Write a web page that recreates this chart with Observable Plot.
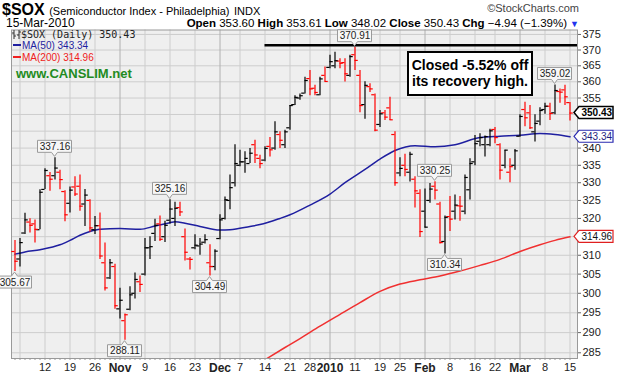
<!DOCTYPE html>
<html><head><meta charset="utf-8">
<script src="https://cdn.jsdelivr.net/npm/d3@7"></script>
<script src="https://cdn.jsdelivr.net/npm/@observablehq/plot@0.6"></script>
<style>
body{margin:0;background:#fff;}
#wrap{position:relative;width:621px;height:377px;overflow:hidden;font-family:"Liberation Sans",Arial,sans-serif;color:#000;}
.abs{position:absolute;white-space:nowrap;}
#chart{position:absolute;left:0;top:28px;}
</style></head><body>
<div id="wrap">
  <div class="abs" style="left:2px;top:1.5px;line-height:16px;"><span style="font-size:16px;font-weight:bold">$SOX</span> <span style="font-size:11px">(Semiconductor Index - Philadelphia)</span> <span style="font-size:11px">INDX</span></div>
  <div class="abs" style="right:42px;top:2px;font-size:11px;color:#444;line-height:13px;">&#169;StockCharts.com</div>
  <div class="abs" style="left:6px;top:17px;font-size:12px;line-height:12px;">15-Mar-2010</div>
  <div class="abs" id="ohlc" style="right:42px;top:17px;font-size:11.5px;line-height:12px;"></div>
  <div id="chart"></div>
  <div class="abs" style="left:12px;top:28.5px;font-family:'DejaVu Sans Mono',monospace;font-size:10px;line-height:11px;color:#222;"><svg width="9" height="9" style="vertical-align:-1px"><path d="M2 0V9M0 3H2M2 6H4M7 0V9M5 5H7M7 2H9" stroke="#333" stroke-width="1" fill="none"/></svg>$SOX (Daily) <span id="lgPrice"></span></div>
  <div class="abs" style="left:13px;top:40px;font-size:10px;line-height:11px;color:#1f1fa0;"><span style="display:inline-block;width:8px;height:2px;background:#1f1fa0;vertical-align:3px;margin-right:1px"></span>MA(50) <span id="lgMa50"></span></div>
  <div class="abs" style="left:13px;top:52px;font-size:10px;line-height:11px;color:#f02020;"><span style="display:inline-block;width:8px;height:2px;background:#f02020;vertical-align:3px;margin-right:1px"></span>MA(200) <span id="lgMa200"></span></div>
  <div class="abs" style="left:16px;top:66px;font-size:13px;line-height:15px;font-weight:bold;color:#228b22;">www.CANSLIM.net</div>
  <div class="abs" style="left:407px;top:50.5px;width:122px;border:2px solid #000;background:#fff;font-size:14px;font-weight:bold;line-height:16px;text-align:center;padding-top:4px;box-sizing:content-box;height:37px;">Closed -5.52% off<br>its recovery high.</div>
</div>
<script>
// ---------- data ----------
const dates = [
"2009-10-02","2009-10-05","2009-10-06","2009-10-07","2009-10-08","2009-10-09",
"2009-10-12","2009-10-13","2009-10-14","2009-10-15","2009-10-16",
"2009-10-19","2009-10-20","2009-10-21","2009-10-22","2009-10-23",
"2009-10-26","2009-10-27","2009-10-28","2009-10-29","2009-10-30",
"2009-11-02","2009-11-03","2009-11-04","2009-11-05","2009-11-06",
"2009-11-09","2009-11-10","2009-11-11","2009-11-12","2009-11-13",
"2009-11-16","2009-11-17","2009-11-18","2009-11-19","2009-11-20",
"2009-11-23","2009-11-24","2009-11-25","2009-11-27",
"2009-11-30","2009-12-01","2009-12-02","2009-12-03","2009-12-04",
"2009-12-07","2009-12-08","2009-12-09","2009-12-10","2009-12-11",
"2009-12-14","2009-12-15","2009-12-16","2009-12-17","2009-12-18",
"2009-12-21","2009-12-22","2009-12-23","2009-12-24",
"2009-12-28","2009-12-29","2009-12-30","2009-12-31",
"2010-01-04","2010-01-05","2010-01-06","2010-01-07","2010-01-08",
"2010-01-11","2010-01-12","2010-01-13","2010-01-14","2010-01-15",
"2010-01-19","2010-01-20","2010-01-21","2010-01-22",
"2010-01-25","2010-01-26","2010-01-27","2010-01-28","2010-01-29",
"2010-02-01","2010-02-02","2010-02-03","2010-02-04","2010-02-05",
"2010-02-08","2010-02-09","2010-02-10","2010-02-11","2010-02-12",
"2010-02-16","2010-02-17","2010-02-18","2010-02-19",
"2010-02-22","2010-02-23","2010-02-24","2010-02-25","2010-02-26",
"2010-03-01","2010-03-02","2010-03-03","2010-03-04","2010-03-05",
"2010-03-08","2010-03-09","2010-03-10","2010-03-11","2010-03-12",
"2010-03-15"];

const opens = [311.0,309.0,316.0,319.0,318.5,316.9, 328.1,332.0,332.0,333.0,327.5, 324.2,328.8,329.0,324.0,325.0,
316.9,318.0,308.0,304.0,307.0, 296.0,293.0,295.9,300.0,303.0, 305.0,312.0,315.9,318.5,315.0,
319.5,320.0,323.0,315.0,309.0, 312.0,312.5,313.5,308.0, 307.0,314.5,320.0,325.0,330.0,
335.0,336.0,335.5,341.0,337.0, 336.5,340.5,340.0,344.0,341.0, 346.0,353.0,355.0,356.5,
361.0,358.0,356.0,362.0, 364.5,365.0,366.5,366.0,362.0, 368.5,362.0,353.0,358.5,356.0,
347.0,350.5,352.0,344.0, 332.8,335.0,333.0,331.0,327.0, 322.0,325.0,329.0,324.0,313.7,
320.5,322.0,323.5,322.0,328.0, 336.0,342.0,341.0,341.0, 345.5,341.0,335.0,333.0,335.0,
343.5,351.5,350.5,344.8,348.0, 351.5,352.5,350.5,357.0,357.5, 353.60];
const highs = [314.0,314.5,321.4,319.9,319.6,328.0, 334.0,332.9,337.16,333.6,327.7, 328.8,331.7,332.2,328.1,325.2,
320.5,321.5,313.3,308.9,307.6, 301.3,294.7,301.7,305.3,304.5, 314.5,315.0,319.8,320.7,319.2,
325.16,324.5,324.5,317.1,309.4, 315.5,314.5,315.5,312.8, 311.5,321.0,326.0,332.2,341.0,
339.4,338.9,339.9,342.3,337.9, 340.4,343.1,347.8,344.8,345.3, 352.7,355.7,356.2,361.4,
363.5,358.9,361.4,364.6, 368.3,369.3,367.2,367.2,368.3, 370.91,363.5,360.0,359.4,356.2,
351.2,351.2,355.2,344.8, 337.2,338.2,338.8,331.7,328.0, 328.2,329.8,330.25,324.5,320.7,
326.1,326.5,326.1,332.2,336.9, 343.7,344.2,343.6,345.6, 346.1,341.3,339.4,336.9,339.6,
349.9,353.7,352.7,349.9,352.0, 353.4,353.4,359.02,357.8,358.9, 353.61];
const lows = [305.67,306.9,315.6,316.0,313.3,316.9, 328.1,327.6,330.8,328.0,319.1, 321.5,326.1,322.0,317.8,316.2,
315.6,308.9,300.6,303.6,295.9, 293.4,288.11,295.5,298.5,300.2, 304.5,308.9,313.7,313.7,313.4,
318.5,317.8,320.5,308.5,306.1, 311.5,310.0,313.0,304.49, 305.9,314.2,319.6,322.4,328.8,
334.6,332.7,335.5,335.5,334.0, 336.0,337.4,339.4,339.9,339.9, 345.3,352.7,354.3,356.2,
355.7,355.7,355.7,359.9, 364.1,364.1,364.1,359.9,361.4, 363.5,350.5,348.6,356.7,344.8,
346.1,348.2,348.2,329.0, 331.7,331.7,330.2,322.9,314.8, 317.4,324.2,325.1,313.0,310.34,
316.4,319.6,319.2,321.0,325.1, 334.9,340.4,337.4,340.4, 341.3,330.8,334.0,330.0,333.6,
343.2,346.3,345.5,341.8,346.6, 350.1,348.2,349.9,353.4,352.7, 348.02];
const closes = [308.4,313.4,319.6,318.1,317.0,327.3, 333.5,331.0,334.2,330.9,321.0, 327.9,326.8,323.4,326.5,317.4,
318.0,309.8,301.4,308.0,296.8, 298.2,294.5,299.6,303.6,302.3, 312.0,312.3,318.1,314.3,318.1,
322.6,322.8,321.8,310.8,308.9, 312.7,313.0,314.2,307.0, 311.1,319.6,325.2,328.6,335.5,
336.0,337.0,338.5,338.0,335.5, 339.9,339.5,344.8,342.3,344.8, 352.7,355.2,355.7,360.4,
357.8,356.7,360.9,360.1, 366.3,366.6,365.8,362.5,367.9, 366.7,352.7,358.9,357.8,345.3,
350.2,349.2,348.4,330.0, 334.1,333.8,338.2,327.7,316.4, 317.6,328.2,327.9,313.4,320.3,
319.8,323.7,323.4,331.5,335.5, 341.3,343.1,343.4,345.1, 343.1,333.6,339.4,334.6,339.2,
349.4,349.0,346.0,347.3,351.2, 352.5,350.3,357.3,356.8,355.37, 350.43];
const closeBeforeFirst = 311.5; // estimated close of the session before the first bar

const ma50Dates = ["2009-10-02","2009-10-06","2009-10-09","2009-10-15","2009-10-19","2009-10-21","2009-10-23","2009-10-27",
"2009-11-02","2009-11-06","2009-11-11","2009-11-16","2009-11-17","2009-11-19","2009-11-24","2009-12-01","2009-12-03",
"2009-12-09","2009-12-11","2009-12-17","2009-12-21","2009-12-28","2010-01-04","2010-01-07","2010-01-13","2010-01-19",
"2010-01-22","2010-01-28","2010-02-03","2010-02-09","2010-02-17","2010-02-23","2010-03-01","2010-03-05","2010-03-10","2010-03-15"];
const ma50Values = [310.3,310.9,311.5,312.8,314.0,315.4,316.4,317.0,
317.2,317.0,317.9,318.8,319.1,318.7,317.8,316.8,316.9,
317.8,318.3,320.0,321.0,323.7,326.8,330.0,333.8,336.8,
339.3,340.7,340.4,341.0,343.1,343.5,343.8,344.3,344.0,343.34];

const ma200Dates = ["2009-12-14","2009-12-18","2009-12-23","2009-12-30","2010-01-06","2010-01-12","2010-01-19","2010-01-25",
"2010-01-29","2010-02-04","2010-02-10","2010-02-17","2010-02-23","2010-03-01","2010-03-05","2010-03-10","2010-03-15"];
const ma200Values = [283.3,286.3,288.5,291.6,294.6,297.6,300.5,302.4,303.5,304.5,305.8,307.3,308.9,311.0,312.8,314.0,314.96];

const yTicks = [285,290,295,300,305,310,315,320,325,330,335,340,345,350,355,360,365,370,375];
const yTickLabelsHidden = [315,345,350]; // covered by the value tags on the right
const gridWeekDates = ["2009-10-05","2009-10-12","2009-10-19","2009-10-26","2009-11-09","2009-11-16","2009-11-23","2009-12-07",
"2009-12-14","2009-12-21","2009-12-28","2010-01-11","2010-01-19","2010-01-25","2010-02-08","2010-02-16","2010-02-22","2010-03-08","2010-03-15"];
const weekTickDates = ["2009-10-12","2009-10-19","2009-10-26","2009-11-09","2009-11-16","2009-11-23","2009-12-07",
"2009-12-14","2009-12-21","2009-12-28","2010-01-11","2010-01-19","2010-01-25","2010-02-08","2010-02-16","2010-02-22","2010-03-08","2010-03-15"];
const weekTickLabels = ["12","19","26","9","16","23","7","14","21","28","11","19","25","8","16","22","8","15"];
const monthTickDates = ["2009-11-02","2009-12-01","2010-01-04","2010-02-01","2010-03-01"];
const monthTickLabels = ["Nov","Dec","2010","Feb","Mar"];

const highLabelDates = ["2009-10-14","2009-11-16","2010-01-11","2010-02-03","2010-03-10"];
const lowLabelDates = ["2009-10-02","2009-11-03","2009-11-27","2010-02-05"];
const resistanceLevel = 371.5;
const resistanceStart = "2009-12-14";

const quote = {open: 353.60, high: 353.61, low: 348.02, close: 350.43, chg: -4.94, pct: -1.39};

// ---------- build ----------
const f2 = d3.format(".2f");
const idx = new Map(dates.map((d, i) => [d, i]));
const xDomain = [-0.7, 112.5];
const bars = dates.map((d, i) => ({
  i, open: opens[i], high: highs[i], low: lows[i], close: closes[i],
  up: closes[i] >= (i ? closes[i - 1] : closeBeforeFirst)
}));
const barColor = d => d.up ? "#000" : "#f00";
const ma50 = ma50Dates.map((d, k) => ({i: idx.get(d), v: ma50Values[k]}));
const ma200 = ma200Dates.map((d, k) => ({i: idx.get(d), v: ma200Values[k]}));
const weekMap = new Map(weekTickDates.map((d, k) => [idx.get(d), weekTickLabels[k]]));
const monthMap = new Map(monthTickDates.map((d, k) => [idx.get(d), monthTickLabels[k]]));
const gridWeek = gridWeekDates.map(d => idx.get(d));
const highTags = highLabelDates.map(d => ({i: idx.get(d), v: highs[idx.get(d)], label: f2(highs[idx.get(d)])}));
const lowTags = lowLabelDates.map(d => ({i: idx.get(d), v: lows[idx.get(d)], label: f2(lows[idx.get(d)])}));
const lastClose = closes[closes.length - 1];
const lastMa50 = ma50Values[ma50Values.length - 1];
const lastMa200 = ma200Values[ma200Values.length - 1];
const yLabelTicks = yTicks.filter(t => !yTickLabelsHidden.includes(t));

document.getElementById("lgPrice").textContent = f2(lastClose);
document.getElementById("lgMa50").textContent = f2(lastMa50);
document.getElementById("lgMa200").textContent = f2(lastMa200);
document.getElementById("ohlc").innerHTML =
  `<b>Open</b> ${f2(quote.open)} <b>High</b> ${f2(quote.high)} <b>Low</b> ${f2(quote.low)} <b>Close</b> ${f2(quote.close)} <b>Chg</b> ${f2(quote.chg)} (${f2(quote.pct)}%)<span style="color:#2233ee;font-size:9px;margin-left:3px">&#9660;</span>`;

// label boxes drawn behind Plot.text marks, positioned from the mark's own scaled values
const NS = "http://www.w3.org/2000/svg";
function tagPath(kind, x, y, w, h) {
  if (kind === "above") { const b = y - 5, t = b - h; return `M${x - w / 2},${t}H${x + w / 2}V${b}H${x + 3}L${x},${y - 1}L${x - 3},${b}H${x - w / 2}Z`; }
  if (kind === "below") { const t = y + 5, b = t + h; return `M${x - w / 2},${t}H${x - 3}L${x},${y + 1}L${x + 3},${t}H${x + w / 2}V${b}H${x - w / 2}Z`; }
  return `M${x - 3},${y}L${x + 2},${y - h / 2}H${x + 2 + w}V${y + h / 2}H${x + 2}Z`;
}
function tagged(kind, {w = 34, h = 12, fill = "#f7f7f7", stroke = "#9a9a9a", strokeWidth = 1} = {}) {
  return (index, scales, values, dims, ctx, next) => {
    const textG = next(index, scales, values, dims, ctx);
    const wrap = document.createElementNS(NS, "g");
    for (const i of index) {
      const x = values.x ? values.x[i] : dims.width - dims.marginRight;
      const y = values.y[i];
      const p = document.createElementNS(NS, "path");
      p.setAttribute("d", tagPath(kind, x, y, w, h));
      p.setAttribute("fill", fill);
      p.setAttribute("stroke", stroke);
      p.setAttribute("stroke-width", strokeWidth);
      wrap.appendChild(p);
    }
    wrap.appendChild(textG);
    return wrap;
  };
}

const chart = Plot.plot({
  width: 621, height: 349,
  marginTop: 1.5, marginBottom: 19, marginLeft: 11, marginRight: 44,
  x: {domain: xDomain, axis: null},
  y: {type: "log", domain: [283.6, 376.44], axis: null},
  style: {fontFamily: "'Liberation Sans', Arial, sans-serif", fontSize: "11px", background: "transparent", overflow: "visible", color: "#222"},
  marks: [
    Plot.frame({fill: "#efefef", stroke: null}),
    Plot.gridY(yTicks, {stroke: "#cdcdcd", strokeOpacity: 1}),
    Plot.gridX(gridWeek, {stroke: "#cdcdcd", strokeOpacity: 1}),
    Plot.gridX([...monthMap.keys()], {stroke: "#b0b0b0", strokeOpacity: 1}),
    Plot.frame({stroke: "#9a9a9a"}),
    Plot.axisY(yTicks, {anchor: "right", tickSize: 3, fill: "none", stroke: "#666"}),
    Plot.axisY(yLabelTicks, {anchor: "right", tickSize: 0, tickPadding: 5, fontSize: 11, tickFormat: d => d}),
    Plot.axisX(bars.map(d => d.i), {tickSize: 2, fill: "none", stroke: "#999"}),
    Plot.axisX([...weekMap.keys()], {tickSize: 0, tickPadding: 5, fontSize: 11, tickFormat: d => weekMap.get(d)}),
    Plot.axisX([...monthMap.keys()], {tickSize: 0, tickPadding: 5, fontSize: 12, fontWeight: "bold", tickFormat: d => monthMap.get(d)}),
    Plot.line(ma200, {x: "i", y: "v", stroke: "#f03030", strokeWidth: 1.5, curve: "monotone-x", clip: true}),
    Plot.line(ma50, {x: "i", y: "v", stroke: "#1f1fa0", strokeWidth: 1.5, curve: "monotone-x", clip: true}),
    Plot.ruleX(bars, {x: "i", y1: "low", y2: "high", stroke: barColor, strokeWidth: 1.2}),
    Plot.ruleY(bars, {y: "open", x1: d => d.i - 0.65, x2: "i", stroke: barColor, strokeWidth: 1.2}),
    Plot.ruleY(bars, {y: "close", x1: "i", x2: d => d.i + 0.65, stroke: barColor, strokeWidth: 1.2}),
    Plot.ruleY([{v: resistanceLevel, from: idx.get(resistanceStart), to: xDomain[1]}], {y: "v", x1: "from", x2: "to", stroke: "#000", strokeWidth: 2.5}),
    Plot.text(highTags, {x: "i", y: "v", text: "label", dy: -11, fontSize: 10, fill: "#222", render: tagged("above")}),
    Plot.text(lowTags, {x: "i", y: "v", text: "label", dy: 11, fontSize: 10, fill: "#222", render: tagged("below")}),
    Plot.text([{v: lastClose, label: f2(lastClose)}], {y: "v", text: "label", frameAnchor: "right", dx: 4, textAnchor: "start", fontSize: 10, fontWeight: "bold", fill: "#000",
      render: tagged("right", {w: 34, fill: "#fff", stroke: "#000", strokeWidth: 1.5})}),
    Plot.text([{v: lastMa50, label: f2(lastMa50)}], {y: "v", text: "label", frameAnchor: "right", dx: 4, textAnchor: "start", fontSize: 10, fill: "#1f1f80",
      render: tagged("right", {w: 34, fill: "#fff", stroke: "#2a2ab0", strokeWidth: 1.2})}),
    Plot.text([{v: lastMa200, label: f2(lastMa200)}], {y: "v", text: "label", frameAnchor: "right", dx: 4, textAnchor: "start", fontSize: 10, fill: "#111",
      render: tagged("right", {w: 34, fill: "#fff", stroke: "#e02020", strokeWidth: 1.2})})
  ]
});
document.getElementById("chart").appendChild(chart);
</script>
</body></html>
